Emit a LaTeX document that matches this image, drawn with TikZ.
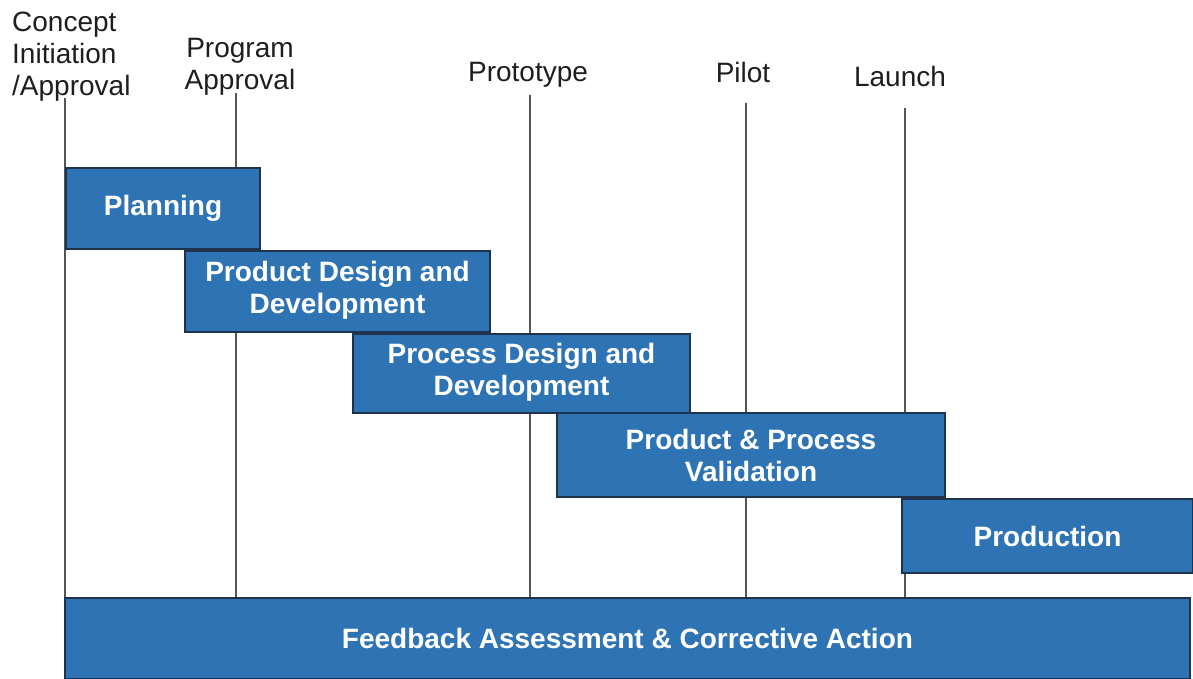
\documentclass[tikz,border=0pt]{standalone}
\usepackage{fontspec}
\setmainfont{Liberation Sans}
\usetikzlibrary{positioning}
\definecolor{phaseblue}{RGB}{46,116,181}
\definecolor{phaseedge}{RGB}{30,52,78}
\definecolor{gategray}{RGB}{85,85,85}
\definecolor{gatetext}{RGB}{30,30,30}
\tikzset{
	phase/.style={draw=phaseedge, line width=1.2pt, fill=phaseblue, text=white, align=center, inner sep=0pt, font=\fontsize{28}{32}\selectfont\bfseries},
	gate/.style={text=gatetext, inner sep=0pt, font=\fontsize{28}{32}\selectfont},
	gateline/.style={draw=gategray, line width=1.5pt}
}

\begin{document}
\begin{tikzpicture}[x=1pt, y=-1pt]
				\useasboundingbox (0,0) rectangle (1193,679);
				\node[gate, align=left, anchor=north west] (CI)at(12, 12) {Concept\\Initiation\\/Approval};
				\node[gate, align=center, anchor=north] (PA)at(240, 38) {Program\\Approval};
				\node[gate, anchor=north] (PT)at(528, 62) {Prototype};
				\node[gate, anchor=north] (PL)at(743, 62) {Pilot};
				\node[gate, anchor=north] (LA)at(900, 66) {Launch};
				\coordinate (mCI) at (65, 98);
				\coordinate (mPA) at (236, 93);
				\coordinate (mPT) at (530, 95);
				\coordinate (mPL) at (746, 103);
				\coordinate (mLA) at (905, 108);
				\coordinate (base) at (0, 598);
				\coordinate (floor) at (0, 679);
				\draw[gateline] (mCI) -- (mCI |- floor);
				\draw[gateline] (mPA) -- (mPA |- base);
				\draw[gateline] (mPT) -- (mPT |- base);
				\draw[gateline] (mPL) -- (mPL |- base);
				\draw[gateline] (mLA) -- (mLA |- base);
				\node[phase, minimum width=1125pt, minimum height=81pt] (FB)at(627.5, 638.5) {\raisebox{-3pt}{Feedback Assessment \& Corrective Action}};
				\node[phase, minimum width=194pt, minimum height=81pt] (PLAN)at(163, 208.5) {\raisebox{-3pt}{Planning}};
				\node[phase, minimum width=305pt, minimum height=81pt] (PDD)at(337.5, 291.5) {\raisebox{-3pt}{\begin{tabular}{@{}c@{}}Product Design and\\Development\end{tabular}}};
				\node[phase, minimum width=337pt, minimum height=79pt] (PRDD)at(521.5, 373.5) {\raisebox{-4pt}{\begin{tabular}{@{}c@{}}Process Design and\\Development\end{tabular}}};
				\node[phase, minimum width=388pt, minimum height=84pt] (PPV)at(751, 455) {Product \& Process\\Validation};
				\node[phase, minimum width=291pt, minimum height=74pt] (PROD)at(1047.5, 536) {Production};
			\end{tikzpicture}
\end{document}
